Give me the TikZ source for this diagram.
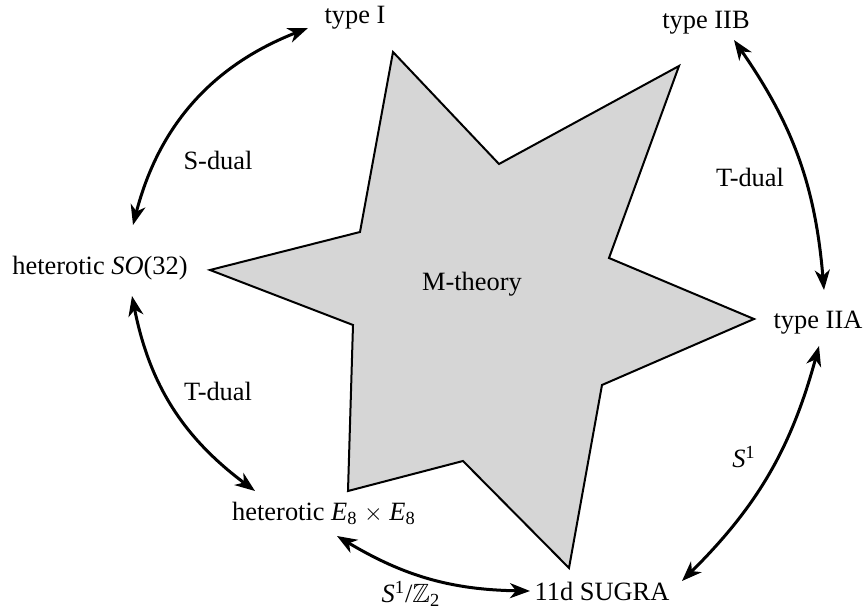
\documentclass[tikz,border=0pt]{standalone}
\usepackage{fontspec}
\setmainfont{Liberation Serif}
\usepackage{amssymb}
\usetikzlibrary{arrows.meta,calc}
\definecolor{starfill}{RGB}{214,214,214}
\begin{document}
\begin{tikzpicture}[x=0.5pt,y=0.5pt,
  txt/.style={font=\fontsize{13.2}{16}\selectfont, inner sep=1pt},
  dualarrow/.style={line width=1.5pt,
    {Stealth[length=10pt,width=7.5pt,inset=3pt]}-{Stealth[length=10pt,width=7.5pt,inset=3pt]}},
  mstar/.style={fill=starfill, draw=black, line width=1pt, line join=miter}]
\useasboundingbox (0,0) rectangle (864,612);
% star
\draw[mstar] (393,560) -- (499,448) -- (679,546) -- (609,354) -- (754,293)
  -- (602,227) -- (569,44) -- (463,151) -- (348,121) -- (353,287)
  -- (210,342) -- (360,380) -- cycle;
\node[txt] (M) at (472,328) {M-theory};
% theories
\node[txt] (typeI) at (355,594) {type I};
\node[txt] (IIB) at (706,589) {type IIB};
\node[txt] (IIA) at (818,289) {type IIA};
\node[txt] (sugra) at (602,21) {11d SUGRA};
\node[txt] (E8) at (324,99) {heterotic \textit{E}\textsubscript{8} $\times$ \textit{E}\textsubscript{8}};
\node[txt] (SO) at (100,344) {heterotic \textit{SO}(32)};
% labels
\node[txt] (sdual) at (218,452) {S-dual};
\node[txt] (tdualR) at (750,435) {T-dual};
\node[txt] (tdualL) at (218,221) {T-dual};
\node[txt] (s1) at (744,155) {\textit{S}\textsuperscript{1}};
\node[txt] (s1z2) at (411,18) {\textit{S}\textsuperscript{1}/$\mathbb{Z}$\textsubscript{2}};
% connectors
\draw[dualarrow] ($(SO)+(33,43)$) to[bend left=27] ($(typeI)+(-47,-10)$);
\draw[dualarrow] ($(IIB)+(28,-17)$) to[bend left=15] ($(IIA)+(6,33)$);
\draw[dualarrow] ($(SO)+(32,-28)$) to[bend right=21] ($(E8)+(-69,22)$);
\draw[dualarrow] ($(E8)+(13,-23)$) to[bend right=15] ($(sugra)+(-72,0)$);
\draw[dualarrow] ($(sugra)+(80,10)$) to[bend right=15] ($(IIA)+(1,-23)$);
\end{tikzpicture}
\end{document}
